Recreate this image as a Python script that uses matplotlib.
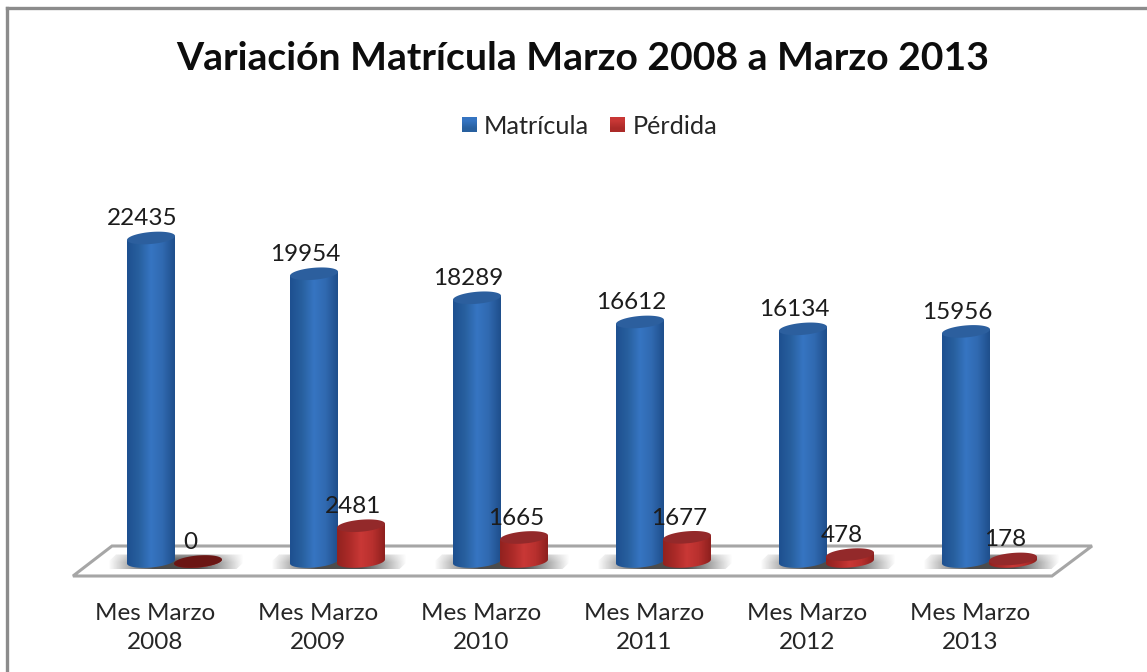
import numpy as np
import matplotlib
matplotlib.use("Agg")
import matplotlib.pyplot as plt
from matplotlib.colors import LinearSegmentedColormap
from matplotlib.patches import Polygon

plt.rcParams['font.family'] = ['Lato', 'DejaVu Sans']

# --- Data ---
categories = ["Mes Marzo\n2008", "Mes Marzo\n2009", "Mes Marzo\n2010",
              "Mes Marzo\n2011", "Mes Marzo\n2012", "Mes Marzo\n2013"]
matricula = [22435, 19954, 18289, 16612, 16134, 15956]
perdida = [0, 2481, 1665, 1677, 478, 178]
series_names = ["Matrícula", "Pérdida"]
title = "Variación Matrícula Marzo 2008 a Marzo 2013"

# --- Scale: one axes over the whole figure ---
W, H = 1147, 672
PX_X = 163.0      # px per category
PX_Y = 0.01442    # px per student
X0, Y0 = 151.0, 561.5

fig = plt.figure(figsize=(W / 100, H / 100), dpi=100)
ax = fig.add_axes([0, 0, 1, 1])
ax.set_xlim(-X0 / PX_X, (W - X0) / PX_X)
ax.set_ylim(-(H - Y0) / PX_Y, Y0 / PX_Y)
ax.axis('off')


def px(x_pixels):
    return x_pixels / PX_X


def py(y_pixels):
    return y_pixels / PX_Y


BAR_W = px(48)
OFFSET = px(47)
RY = py(6)
TILT = py(2)

blue_cm = LinearSegmentedColormap.from_list("b", ["#1e5090", "#28609f", "#3675c2", "#3069b0", "#1f4f8c"])
red_cm = LinearSegmentedColormap.from_list("r", ["#92221f", "#ab2a28", "#c93836", "#b8302e", "#8e201e"])
gradient = np.linspace(0, 1, 64).reshape(1, -1)


def ellipse(xc, yc, w):
    t = np.linspace(0, 2 * np.pi, 90)
    return np.column_stack([xc + w / 2 * np.cos(t), yc + RY * np.sin(t) + TILT * np.cos(t)])


def cylinder(xc, value, cmap, top_color):
    w = BAR_W
    t = np.linspace(np.pi, 2 * np.pi, 45)
    bottom = np.column_stack([xc + w / 2 * np.cos(t), RY * np.sin(t) + TILT * np.cos(t)])
    body = np.vstack([bottom, [[xc + w / 2, value + TILT]], [[xc - w / 2, value - TILT]]])
    patch = Polygon(body, closed=True, fc='none', ec='none', transform=ax.transData)
    ax.add_patch(patch)
    im = ax.imshow(gradient, cmap=cmap, aspect='auto', zorder=4,
                   extent=[xc - w / 2, xc + w / 2, -RY * 1.5, value + RY * 1.5])
    im.set_clip_path(patch)
    ax.add_patch(Polygon(ellipse(xc, value, w), closed=True, fc=top_color, ec='none', zorder=5))


def floor_shadow(xc):
    # soft grey shadow on the floor, leaning with the floor's perspective
    hw = px(68)
    fade = 1 - np.abs(np.linspace(-1, 1, 101))
    vert = np.clip(np.linspace(0.55, 1.35, 21), 0, 1)
    rgba = np.zeros((21, 101, 4))
    rgba[..., :3] = 0.3
    rgba[..., 3] = np.outer(vert, np.clip(fade * 1.5, 0, 1))
    im = ax.imshow(rgba, aspect='auto', zorder=2, interpolation='bilinear',
                   extent=[xc - hw, xc + hw, py(-8), py(7)])
    lean = px(8)
    clip = Polygon([(xc - hw - lean, py(-8)), (xc + hw - lean, py(-8)),
                    (xc + hw + lean, py(7)), (xc - hw + lean, py(7))],
                   closed=True, fc='none', ec='none', transform=ax.transData)
    ax.add_patch(clip)
    im.set_clip_path(clip)


# --- Frame ---
ax.plot([px(7 - X0)] * 2, [ax.get_ylim()[0], py(Y0 - 8)], color='#8c8c8c', lw=2.4, zorder=1)
ax.plot([px(7 - X0), ax.get_xlim()[1]], [py(Y0 - 8)] * 2, color='#8c8c8c', lw=2.4, zorder=1)

# --- Floor ---
floor = [(px(73 - X0), py(Y0 - 576)), (px(1052 - X0), py(Y0 - 576)),
         (px(1092 - X0), py(Y0 - 546)), (px(112 - X0), py(Y0 - 546))]
ax.add_patch(Polygon(floor, closed=True, fc='white', ec='#a6a6a6', lw=2.2, zorder=1))

# --- Bars and labels ---
for i in range(len(categories)):
    x_blue = i
    x_red = i + OFFSET
    floor_shadow(x_blue + px(25))
    cylinder(x_blue, matricula[i], blue_cm, '#2c5f9e')
    red_top = '#6b1614' if perdida[i] == 0 else '#93292a'
    cylinder(x_red, perdida[i], red_cm, red_top)
    ax.text(x_blue - px(9), matricula[i] + py(19), str(matricula[i]), ha='center', va='center',
            fontsize=17.5, color='#1c1c1c', zorder=7)
    ax.text(x_red - px(8), perdida[i] + py(19), str(perdida[i]), ha='center', va='center',
            fontsize=17.5, color='#1c1c1c', zorder=7)
    ax.text(x_blue + px(4), py(Y0 - 628), categories[i], ha='center', va='center',
            fontsize=17.5, color='#262626', linespacing=1.45, zorder=7)

# --- Title ---
ax.text(px(583 - X0), py(Y0 - 59), title, ha='center', va='center', fontsize=28.2,
        fontweight='bold', color='#0d0d0d')

# --- Legend ---
for sx, tx, name, cm in [(462, 484, series_names[0], blue_cm), (610, 633, series_names[1], red_cm)]:
    ramp = np.array([[0.5], [0.25]])
    ax.imshow(ramp, cmap=cm, vmin=0, vmax=1, aspect='auto', zorder=6, interpolation='bilinear',
              extent=[px(sx - X0), px(sx + 15 - X0), py(Y0 - 132), py(Y0 - 117)])
    ax.text(px(tx - X0), py(Y0 - 126), name, ha='left', va='center', fontsize=18.2, color='#262626')

fig.savefig("out.png", dpi=100)
